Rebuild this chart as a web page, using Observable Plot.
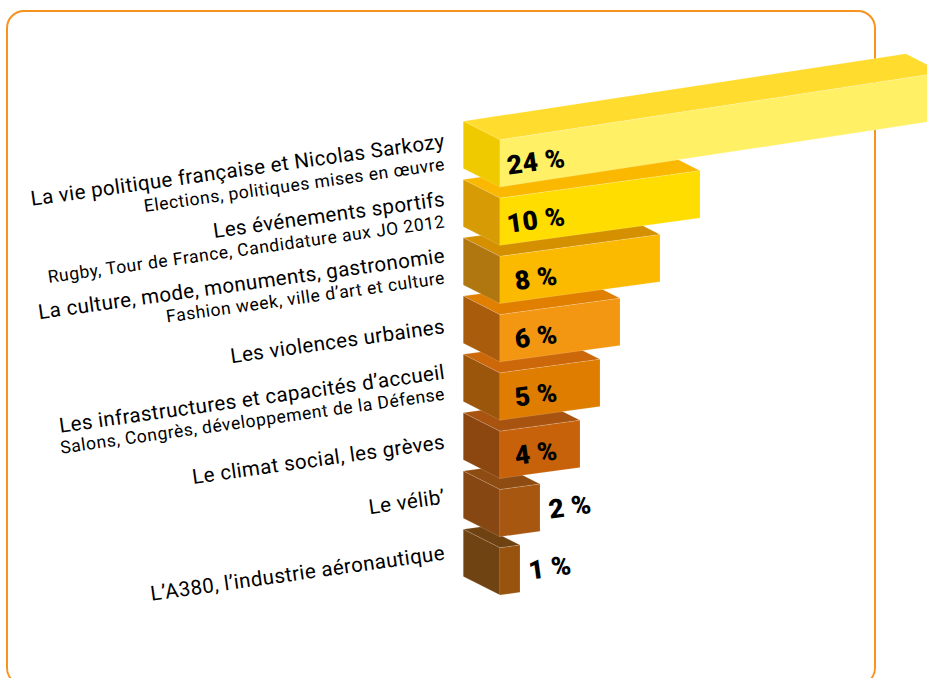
<!DOCTYPE html>
<html lang="fr">
<head>
<meta charset="utf-8">
<script src="https://cdn.jsdelivr.net/npm/d3@7"></script>
<script src="https://cdn.jsdelivr.net/npm/@observablehq/plot@0.6"></script>
<style>
html,body{margin:0;padding:0;background:#fff;overflow:hidden}
#stage{position:relative;width:927px;height:678px;overflow:hidden}
#panel{position:absolute;left:6px;top:9.5px;width:865.5px;height:672px;border:2px solid #f7931e;border-radius:18px}
#chart{position:absolute;left:0;top:0}
#chart svg{background:transparent;max-width:none}
#chart g[font-size="20.5"]{letter-spacing:.4px}
#chart g[font-size="17.5"]{letter-spacing:.57px}
#chart g[font-size="26.5"]{letter-spacing:.3px}
</style>
</head>
<body>
<div id="stage"><div id="panel"></div><div id="chart"></div></div>
<script>
const shares = [24, 10, 8, 6, 5, 4, 2, 1];
const themes = [
  "La vie politique française et Nicolas Sarkozy",
  "Les événements sportifs",
  "La culture, mode, monuments, gastronomie",
  "Les violences urbaines",
  "Les infrastructures et capacités d’accueil",
  "Le climat social, les grèves",
  "Le vélib’",
  "L’A380, l’industrie aéronautique"
];
const details = [
  "Elections, politiques mises en œuvre",
  "Rugby, Tour de France, Candidature aux JO 2012",
  "Fashion week, ville d’art et culture",
  "",
  "Salons, Congrès, développement de la Défense",
  "",
  "",
  ""
];
const frontColors = ["#fff066", "#ffdd00", "#fbba00", "#f39712", "#de7d00", "#c7620b", "#a85710", "#98530f"];
const topColors   = ["#ffdc2e", "#fbb800", "#d59000", "#e07f00", "#cc670a", "#a8530f", "#8f4c12", "#6f4212"];
const sideColors  = ["#f0ca00", "#d69b05", "#b0760f", "#a85c0c", "#9b560b", "#8b470f", "#874712", "#6f4312"];

// Layout of the pseudo-3D blocks, in scale units (x: percent, y: rows)
const depthX = 1.835, depthY = 0.319, blockH = 0.81, slant = 0.047;
// The 24 % bar is drawn shorter and steeper than the others in the original.
const lengthOf = v => v === 24 ? 22.13 : v;
const riseOf = v => v === 24 ? 1.156 : v * slant;
const labelX = -2.72;
const themeDy  = [0.135, 0.129, 0.098, 0.316, 0.098, 0.297, 0.24, 0.2];
const detailDy = [0.515, 0.5, 0.465, 0, 0.458, 0, 0, 0];

const marks = [];
const poly = (pts, fill) => Plot.line(pts, {
  x: "x", y: "y", curve: "linear-closed", fill,
  stroke: "#fff", strokeOpacity: 0.3, strokeWidth: 0.5, clip: true
});
d3.range(shares.length).reverse().forEach(r => {
  const v = shares[r], L = lengthOf(v), R = riseOf(v);
  marks.push(poly([
    {x: -depthX, y: r - depthY}, {x: L - depthX, y: r - R - depthY}, {x: L, y: r - R}, {x: 0, y: r}
  ], topColors[r]));
  marks.push(poly([
    {x: -depthX, y: r - depthY}, {x: 0, y: r}, {x: 0, y: r + blockH}, {x: -depthX, y: r - depthY + blockH}
  ], sideColors[r]));
  marks.push(poly([
    {x: 0, y: r}, {x: L, y: r - R}, {x: L, y: r - R + blockH}, {x: 0, y: r + blockH}
  ], frontColors[r]));
});

const rows = shares.map((v, r) => {
  const cx = v <= 2 ? v + 1.5 : 1.8;
  return {
    r, v,
    cx, cy: r + 0.386 - cx * slant + 1.8 * slant,
    theme: themes[r], detail: details[r],
    ty: r + themeDy[r], dy: r + detailDy[r]
  };
});
const font = "Roboto, sans-serif";
marks.push(Plot.text(rows, {
  x: () => labelX, y: "ty", text: "theme", textAnchor: "end", lineAnchor: "bottom",
  rotate: -8, fontSize: 20.5, fontFamily: font, fill: "#000"
}));
marks.push(Plot.text(rows.filter(d => d.detail), {
  x: () => labelX, y: "dy", text: "detail", textAnchor: "end", lineAnchor: "bottom",
  rotate: -8, fontSize: 17.5, fontFamily: font, fill: "#000"
}));
marks.push(Plot.text(rows, {
  x: "cx", y: "cy", text: d => `${d.v} %`, textAnchor: "middle", lineAnchor: "middle",
  rotate: -7.8, fontSize: 26.5, fontWeight: 900, fontFamily: font, fill: "#000"
}));

const chart = Plot.plot({
  width: 927, height: 678,
  margin: 0,
  style: {background: "transparent", overflow: "hidden"},
  x: {type: "linear", domain: [-24.975, 21.375], range: [0, 927], axis: null},
  y: {type: "linear", domain: [0, 7], range: [139.3, 547.3], axis: null},
  marks
});
document.getElementById("chart").append(chart);
</script>
</body>
</html>
